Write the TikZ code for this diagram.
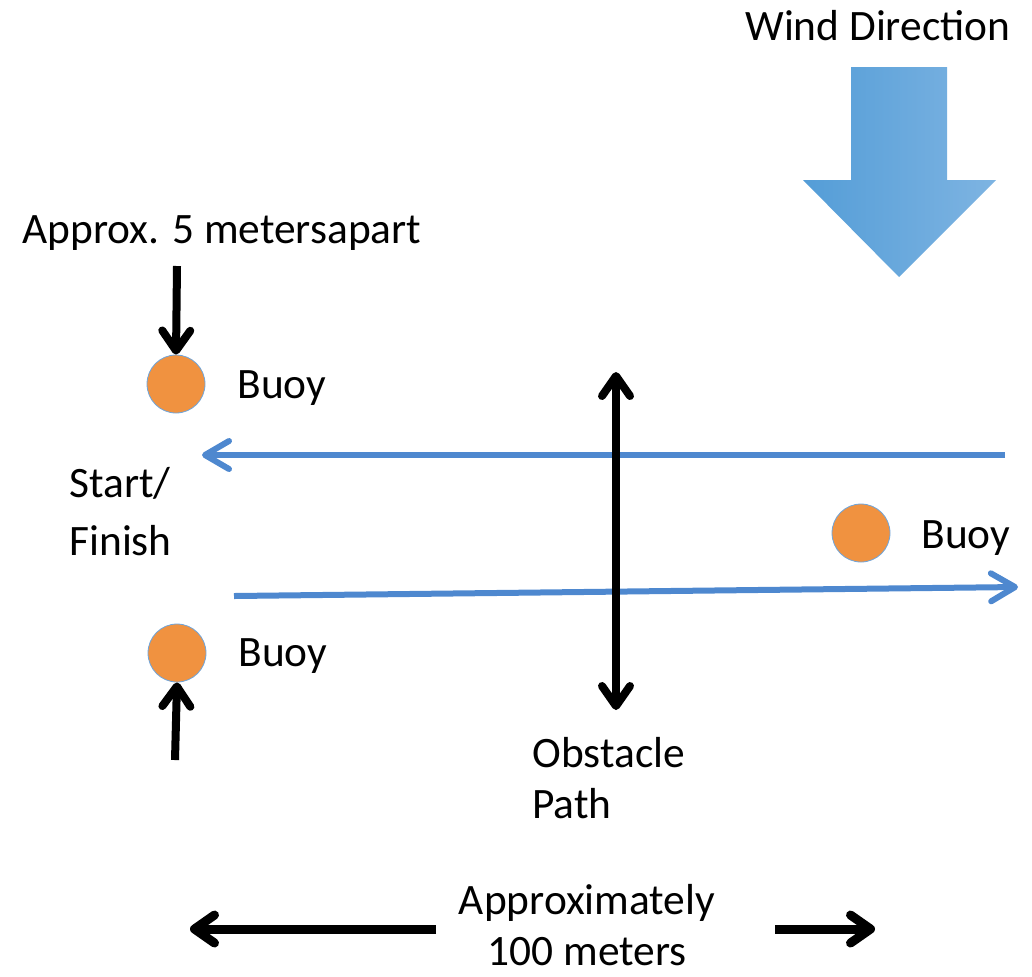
\documentclass[tikz,border=0pt]{standalone}
\usepackage{fontspec}
\setmainfont{Carlito}
\usetikzlibrary{arrows.meta}

\definecolor{buoyorange}{RGB}{240,146,64}
\definecolor{buoyrim}{RGB}{110,165,220}
\definecolor{courseblue}{RGB}{78,136,207}
\definecolor{windleft}{RGB}{84,157,215}
\definecolor{windright}{RGB}{126,180,226}

\tikzstyle{buoy}=[circle,fill=buoyorange,draw=buoyrim,line width=0.4pt,minimum size=29pt,inner sep=0pt]
\tikzstyle{txt}=[inner sep=0pt,anchor=base west,align=left,font=\fontsize{21.7}{25.5}\selectfont]
\tikzstyle{pointer}=[line width=4pt,-{Straight Barb[length=10pt,width=14pt,round]}]
\tikzstyle{twoway}=[line width=4pt,{Straight Barb[length=10pt,width=14pt,round]}-{Straight Barb[length=10pt,width=14pt,round]}]
\tikzstyle{course}=[courseblue,line width=3pt,-{Straight Barb[length=12pt,width=14pt,round]}]

\begin{document}
\begin{tikzpicture}[x=0.5pt,y=-0.5pt]
	\useasboundingbox (0,0) rectangle (1032,976);
	%Wind
	\node[txt] (wind) at (745,40) {Wind Direction};
	\shade[left color=windleft,right color=windright]
		(851,67) -- (947,67) -- (947,180) -- (996,180) -- (899,277) -- (803,180) -- (851,180) -- cycle;
	%Buoys
	\foreach \pos/\name in {{(176,384)/b1}, {(861,533)/b2}, {(177,653)/b3}}
		\node[buoy] (\name) at \pos {};
	\foreach \pos/\name in {{(237,398)/l1}, {(921,548)/l2}, {(238,666)/l3}}
		\node[txt] (\name) at \pos {Buoy};
	%Start line
	\node[txt] (gap) at (22,243) {Approx. 5 metersapart};
	\node[txt,font=\fontsize{21.7}{29}\selectfont] (start) at (69,555) {Start/\\Finish};
	\coordinate (drop) at (177,266);
	\coordinate (rise) at (175,760);
	\draw[pointer] (drop) -- (b1.north);
	\draw[pointer] (rise) -- (b3.south);
	%Course
	\coordinate (upwind) at (1005,455);
	\coordinate (home) at (202,455);
	\coordinate (outset) at (234,596);
	\coordinate (far) at (1018,587);
	\draw[course] (upwind) -- (home);
	\draw[course] (outset) -- (far);
	%Obstacle
	\coordinate (obtop) at (616,372);
	\coordinate (obbot) at (616,710);
	\draw[twoway] (obtop) -- (obbot);
	\node[txt] (obstacle) at (532,818) {Obstacle\\Path};
	%Distance
	\node[txt,anchor=base,align=center] (dist) at (587,965) {Approximately\\100 meters};
	\coordinate (spanl) at (436,929);
	\coordinate (spanle) at (190,929);
	\coordinate (spanr) at (775,929);
	\coordinate (spanre) at (875,929);
	\draw[pointer,line width=4.5pt] (spanl) -- (spanle);
	\draw[pointer,line width=4.5pt] (spanr) -- (spanre);
\end{tikzpicture}
\end{document}
